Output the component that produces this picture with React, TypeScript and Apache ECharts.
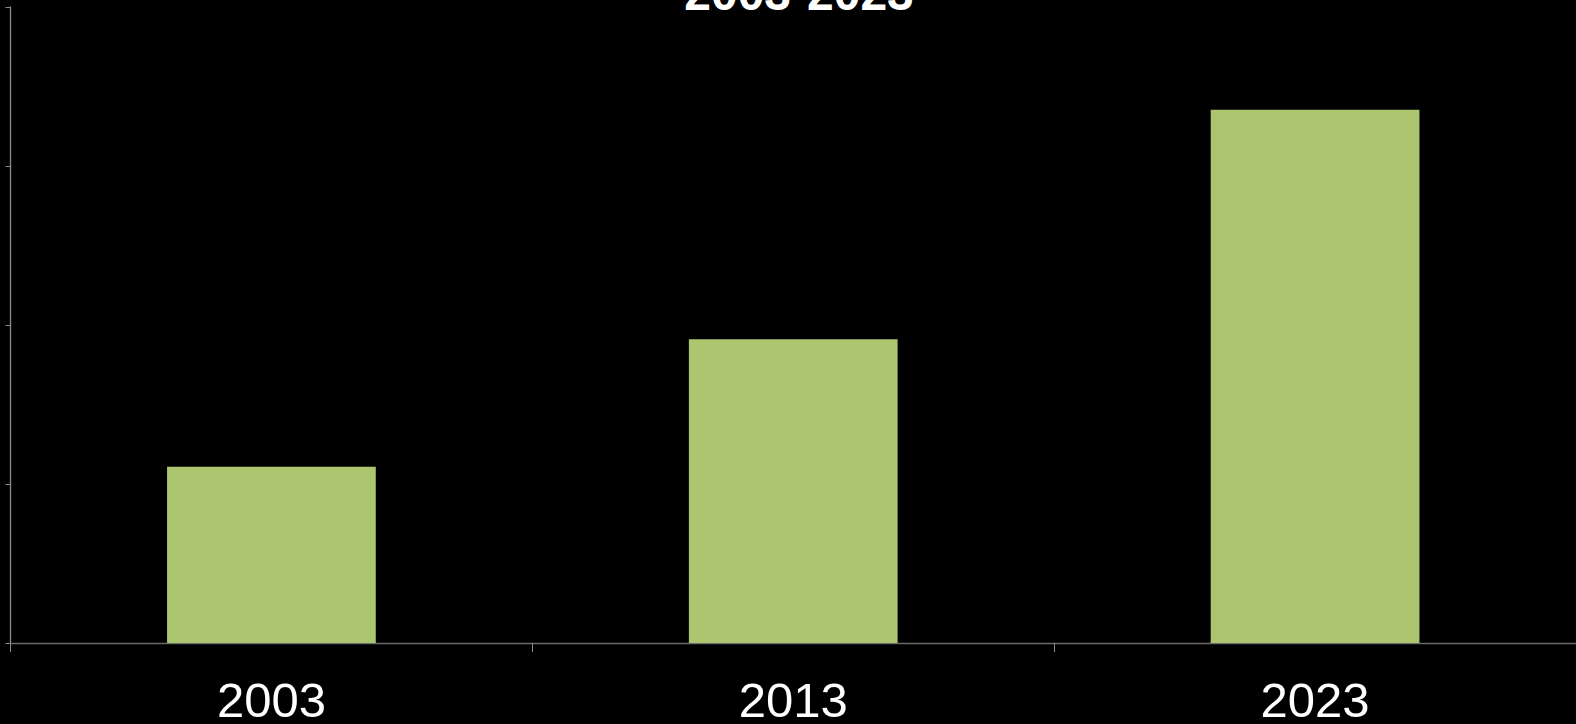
import React, { useEffect, useRef } from "react";
import * as echarts from "echarts";

const categories = ["2003", "2013", "2023"];
const values = [55.4, 95.5, 167.7];
const titleText = "2003-2023";
const yMin = 0;
const yMax = 200;
const yInterval = 50;

export default function App() {
  const ref = useRef<HTMLDivElement>(null);
  useEffect(() => {
    const chart = echarts.init(ref.current!, null, { renderer: "svg" });
    chart.setOption({
      animation: false,
      backgroundColor: "#000000",
      graphic: [
        {
          type: "text",
          x: 799,
          y: -7,
          style: {
            text: titleText,
            fill: "#ffffff",
            font: "bold 48px 'Liberation Sans', Arial, sans-serif",
            textAlign: "center",
            textVerticalAlign: "middle",
            align: "center",
            verticalAlign: "middle",
          },
        },
      ],
      grid: { left: 10.5, right: 0, top: 7, bottom: 79.5, containLabel: false },
      xAxis: {
        type: "category",
        data: categories,
        boundaryGap: true,
        axisLine: { show: true, lineStyle: { color: "#6a6a6a", width: 1.3 } },
        axisTick: { show: true, length: 9, lineStyle: { color: "#8c8c8c", width: 1 } },
        axisLabel: {
          color: "#ffffff",
          fontSize: 49,
          fontFamily: "'Liberation Sans', Arial, sans-serif",
          margin: 32,
        },
        splitLine: { show: false },
      },
      yAxis: {
        type: "value",
        min: yMin,
        max: yMax,
        interval: yInterval,
        axisLine: { show: true, lineStyle: { color: "#8c8c8c", width: 1.3 } },
        axisTick: { show: true, length: 5, lineStyle: { color: "#8c8c8c", width: 1 } },
        axisLabel: { show: false },
        splitLine: { show: false },
      },
      series: [
        {
          type: "bar",
          data: values,
          barWidth: "40%",
          itemStyle: { color: "#acc66f" },
        },
      ],
    });
    return () => chart.dispose();
  }, []);
  return (
    <div
      ref={ref}
      style={{ position: "fixed", left: 0, top: 0, width: 1576, height: 724, background: "#000" }}
    />
  );
}
